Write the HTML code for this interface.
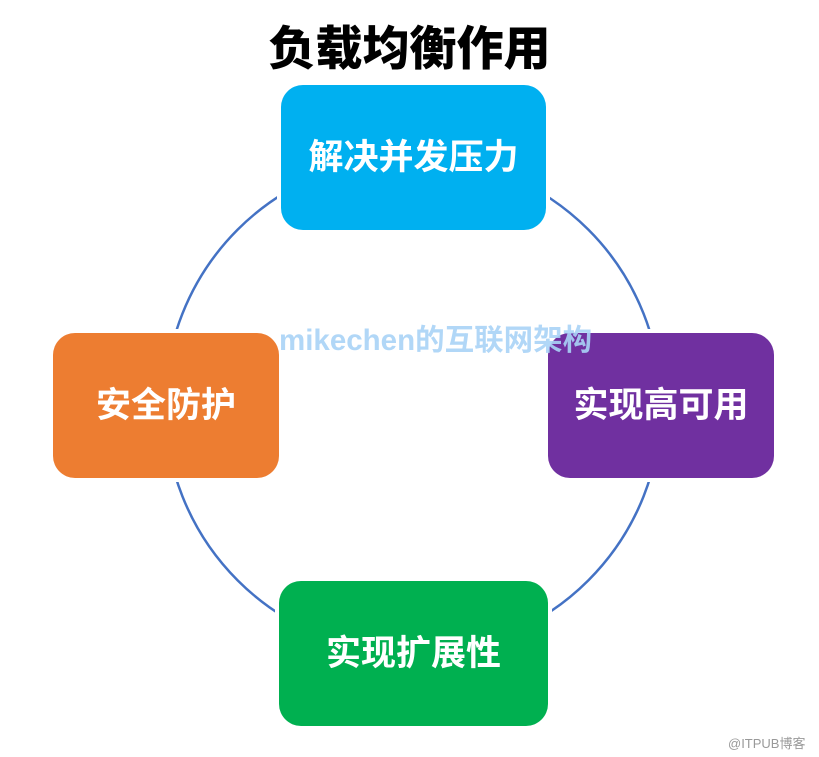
<!DOCTYPE html>
<html><head><meta charset="utf-8"><style>
body{margin:0;width:819px;height:757px;background:#fff;position:relative;overflow:hidden;font-family:"Liberation Sans","Noto Sans CJK SC",sans-serif}
.b{position:absolute;border-radius:22px;color:#fff;font-weight:bold;font-size:35px;display:flex;align-items:center;justify-content:center;box-shadow:0 0 0 4px #fff;padding-bottom:6px;box-sizing:border-box}
.t{position:absolute;left:0;width:819px;text-align:center;top:10px;font-size:47px;font-weight:900;color:#000}
.w{position:absolute;left:279px;top:317px;font-size:29.5px;font-weight:bold;color:#a9d3f7;white-space:nowrap;z-index:5;opacity:.9}
.s{position:absolute;left:728px;top:733px;font-size:13px;color:#999}
</style></head><body>
<div class="t">负载均衡作用</div>
<svg width="819" height="757" style="position:absolute;left:0;top:0"><circle cx="413" cy="405" r="248" fill="none" stroke="#4472C4" stroke-width="2.5"/></svg>
<div class="b" style="left:281px;top:85px;width:265px;height:145px;background:#00B0F0">解决并发压力</div>
<div class="b" style="left:53px;top:333px;width:226px;height:145px;background:#ED7D31">安全防护</div>
<div class="b" style="left:548px;top:333px;width:226px;height:145px;background:#7030A0">实现高可用</div>
<div class="b" style="left:279px;top:581px;width:269px;height:145px;background:#00B050">实现扩展性</div>
<div class="w">mikechen的互联网架构</div>
<div class="s">@ITPUB博客</div>
</body></html>
